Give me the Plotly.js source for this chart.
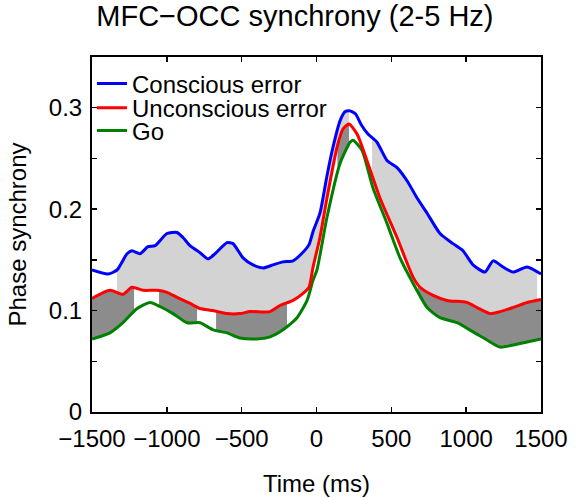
<!DOCTYPE html>
<html>
<head>
<meta charset="utf-8">
<script src="https://cdn.plot.ly/plotly-3.0.1.min.js"></script>
<style>html,body{margin:0;padding:0;background:#fff;}#chart{width:576px;height:498px;}</style>
</head>
<body>
<div id="chart"></div>
<script>
// ---- data ----
const tBlue = [-1500,-1393,-1333,-1266,-1233,-1179,-1126,-1079,-999,-932,-892,-845,-778,-725,-678,-598,-558,-491,-424,-357,-291,-224,-157,-100,-50,-23,23,70,110,157,190,220,260,300,344,404,471,538,605,672,739,825,912,979,1046,1126,1180,1246,1313,1407,1500];
const blue  = [0.140,0.136,0.140,0.156,0.159,0.156,0.163,0.164,0.176,0.177,0.172,0.164,0.157,0.151,0.156,0.167,0.166,0.152,0.145,0.142,0.145,0.148,0.149,0.156,0.165,0.178,0.196,0.233,0.261,0.287,0.296,0.297,0.294,0.283,0.274,0.266,0.248,0.241,0.228,0.211,0.196,0.176,0.166,0.159,0.145,0.138,0.149,0.143,0.138,0.143,0.136];

const tRed = [-1500,-1380,-1293,-1233,-1159,-1066,-999,-932,-845,-778,-691,-598,-511,-444,-311,-244,-157,-90,-50,-23,23,70,137,177,217,271,337,424,538,645,692,779,872,1006,1073,1160,1226,1313,1407,1500];
const red  = [0.112,0.120,0.116,0.123,0.120,0.120,0.118,0.113,0.107,0.102,0.100,0.097,0.097,0.099,0.099,0.105,0.110,0.117,0.123,0.143,0.172,0.211,0.261,0.279,0.284,0.274,0.248,0.211,0.172,0.133,0.123,0.115,0.110,0.108,0.103,0.097,0.099,0.103,0.108,0.111];

const tGreen = [-1500,-1380,-1293,-1199,-1112,-1046,-959,-865,-778,-691,-598,-511,-398,-311,-224,-130,-63,-23,3,70,157,224,244,304,377,471,558,645,739,825,939,1046,1139,1226,1313,1407,1500];
const green  = [0.072,0.078,0.088,0.102,0.108,0.104,0.097,0.088,0.088,0.081,0.078,0.073,0.072,0.074,0.081,0.093,0.110,0.130,0.140,0.192,0.245,0.266,0.268,0.258,0.221,0.186,0.152,0.127,0.103,0.093,0.088,0.079,0.071,0.064,0.066,0.069,0.072];

// significant intervals (ms)
const sigConsciousVsUnconscious = [[-1333,217],[371,1474]];
const sigUnconsciousVsGo = [[-1500,-1219],[-1052,-798],[-671,-197],[140,217],[678,1500]];

const xTicks = [-1500,-1000,-500,0,500,1000,1500];
const yTicks = [0,0.05,0.1,0.15,0.2,0.25,0.3,0.35];
const yTickText = ['0','','0.1','','0.2','','0.3',''];

// ---- helpers ----
function interp(ts, vs, t){
  if (t <= ts[0]) return vs[0];
  for (let i=1;i<ts.length;i++){
    if (t <= ts[i]){
      const f = (t-ts[i-1])/(ts[i]-ts[i-1]);
      return vs[i-1] + f*(vs[i]-vs[i-1]);
    }
  }
  return vs[vs.length-1];
}
function band(tu, vu, tl, vl, a, b, color){
  const xs=[], ys=[];
  xs.push(a); ys.push(interp(tu,vu,a));
  tu.forEach((t,i)=>{ if(t>a && t<b){xs.push(t); ys.push(vu[i]);} });
  xs.push(b); ys.push(interp(tu,vu,b));
  const lx=[], ly=[];
  lx.push(a); ly.push(interp(tl,vl,a));
  tl.forEach((t,i)=>{ if(t>a && t<b){lx.push(t); ly.push(vl[i]);} });
  lx.push(b); ly.push(interp(tl,vl,b));
  lx.reverse(); ly.reverse();
  return {x:xs.concat(lx), y:ys.concat(ly), type:'scatter', mode:'lines', fill:'toself',
          fillcolor:color, line:{width:0, color:color}, showlegend:false, hoverinfo:'skip'};
}

const traces = [];
sigConsciousVsUnconscious.forEach(iv => traces.push(band(tBlue,blue,tRed,red,iv[0],iv[1],'#d3d3d3')));
sigUnconsciousVsGo.forEach(iv => traces.push(band(tRed,red,tGreen,green,iv[0],iv[1],'#8c8c8c')));

const LS = {shape:'spline', smoothing:0.6, width:3};
traces.push({x:tGreen, y:green, type:'scatter', mode:'lines', name:'Go', line:Object.assign({color:'#008000'},LS), legend:'legend3'});
traces.push({x:tRed, y:red, type:'scatter', mode:'lines', name:'Unconscious error', line:Object.assign({color:'#ff0000'},LS), legend:'legend2'});
traces.push({x:tBlue, y:blue, type:'scatter', mode:'lines', name:'Conscious error', line:Object.assign({color:'#0000ff'},LS), legend:'legend'});

const FONT = 'Liberation Sans, Arial, Helvetica, sans-serif';
function leg(y){
  return {x:0, y:y, xanchor:'left', yanchor:'middle', bgcolor:'rgba(0,0,0,0)', borderwidth:0,
          font:{family:FONT, size:24, color:'#000'}};
}

const layout = {
  width:576, height:498,
  margin:{l:92, r:35, t:57, b:86},
  paper_bgcolor:'#fff', plot_bgcolor:'#fff',
  font:{family:FONT, size:24, color:'#000'},
  title:{text:'MFC\u2212OCC synchrony (2-5 Hz)', font:{family:FONT, size:29, color:'#000'},
         x:0.512, xanchor:'center', y:0.988, yanchor:'top'},
  xaxis:{range:[-1500,1500], tickvals:xTicks, ticks:'inside', ticklen:5, tickwidth:1.5, tickcolor:'#000',
         showline:true, linecolor:'#000', linewidth:2, mirror:'ticks', showgrid:false, zeroline:false,
         ticklabelstandoff:4,
         tickfont:{family:FONT, size:24, color:'#000'},
         title:{text:'Time (ms)', font:{family:FONT, size:24, color:'#000'}, standoff:24}},
  yaxis:{range:[0,0.35], tickvals:yTicks, ticktext:yTickText, ticks:'inside', ticklen:5, tickwidth:1.5, tickcolor:'#000',
         showline:true, linecolor:'#000', linewidth:2, mirror:'ticks', showgrid:false, zeroline:false,
         ticklabelstandoff:3,
         tickfont:{family:FONT, size:24, color:'#000'},
         title:{text:'Phase synchrony', font:{family:FONT, size:24, color:'#000'}, standoff:15}},
  legend:leg(0.924), legend2:leg(0.856), legend3:leg(0.792),
  showlegend:true
};

Plotly.newPlot('chart', traces, layout, {staticPlot:true, displayModeBar:false});
</script>
</body>
</html>
